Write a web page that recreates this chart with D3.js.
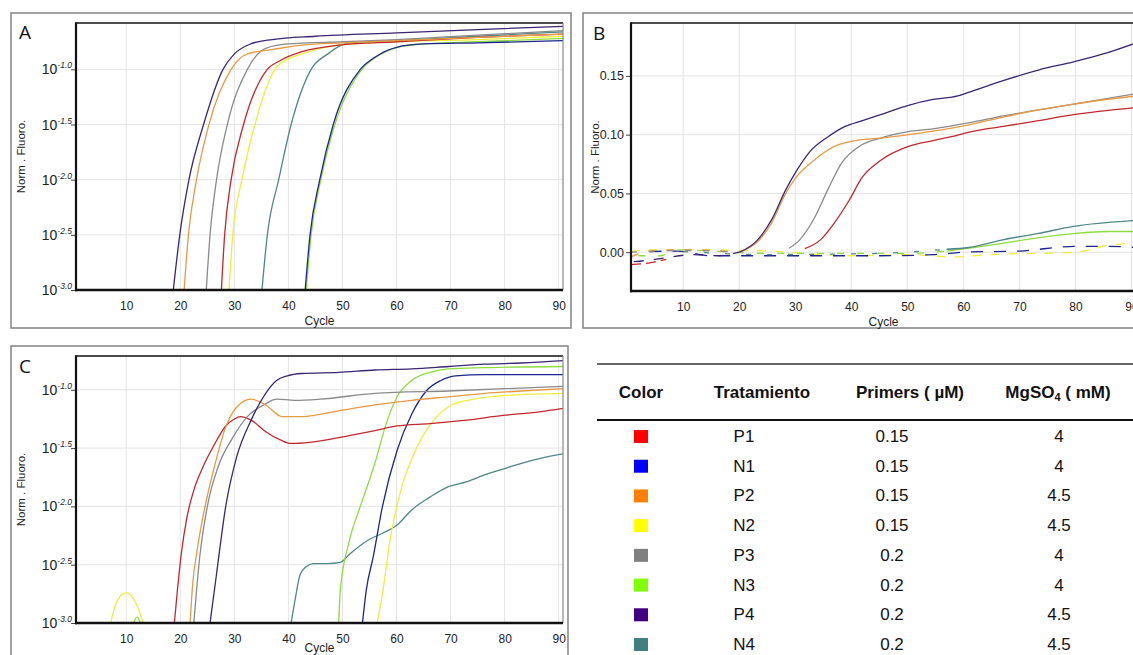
<!DOCTYPE html>
<html><head><meta charset="utf-8">
<script src="https://cdn.jsdelivr.net/npm/d3@7/dist/d3.min.js"></script>
<style>
body{margin:0;background:#fff;}
svg{display:block;font-family:"Liberation Sans",Arial,sans-serif;}
</style>
</head><body>
<svg id="chart" width="1133" height="655"></svg>
<script>
// ---------------- DATA ----------------
const treatments = ["P1","N1","P2","N2","P3","N3","P4","N4"];
const primers = ["0.15","0.15","0.15","0.15","0.2","0.2","0.2","0.2"];
const mgso4 = ["4","4","4.5","4.5","4","4","4.5","4.5"];
const legendColors = ["#ff0000","#0000ff","#ff8000","#ffff00","#808080","#80ff00","#400080","#408080"];
const lineColors = {P1:"#c1272d",N1:"#1c2590",P2:"#e59a45",N2:"#eeee3a",P3:"#8a8a8a",N3:"#8edc3e",P4:"#3a2672",N4:"#4f8686"};

const cycleDomain = [0.7, 90.8];
const xTickValues = [10,20,30,40,50,60,70,80,90];
const logTickExps = [-3.0,-2.5,-2.0,-1.5,-1.0];
const logTickLabels = ["-3.0","-2.5","-2.0","-1.5","-1.0"];
const linTickValues = [0,0.05,0.10,0.15];
const linTickLabels = ["0.00","0.05","0.10","0.15"];

// Panel A  (cycle, log10 Norm. Fluoro.)
const A_P1 = [[27.6,-3.0],[28.2,-2.5],[29.4,-2.0],[31.7,-1.5],[36.1,-1.0],[38.5,-0.92],[42.5,-0.84],[49.3,-0.78],[60,-0.75],[75,-0.71],[90.8,-0.68]];
const A_N1 = [[43.1,-3.0],[44,-2.5],[45.8,-2.0],[48.3,-1.5],[53.3,-1.0],[56,-0.89],[60,-0.80],[65,-0.77],[75,-0.76],[90.8,-0.74]];
const A_P2 = [[20.7,-3.0],[21.5,-2.5],[23,-2.0],[25.3,-1.5],[29.4,-1.0],[32.4,-0.86],[37.1,-0.82],[42.5,-0.78],[50,-0.76],[60,-0.74],[75,-0.71],[90.8,-0.68]];
const A_N2 = [[29,-3.0],[29.7,-2.5],[31.4,-2.0],[33.8,-1.5],[37.5,-1.0],[39.8,-0.91],[42.5,-0.86],[49.3,-0.78],[60,-0.75],[75,-0.73],[90.8,-0.70]];
const A_P3 = [[24.8,-3.0],[25.5,-2.5],[26.7,-2.0],[28.7,-1.5],[32.4,-1.0],[35.8,-0.81],[39.8,-0.77],[50,-0.75],[60,-0.73],[75,-0.69],[90.8,-0.65]];
const A_N3 = [[43.3,-3.0],[44.2,-2.5],[46,-2.0],[48.6,-1.5],[53.6,-1.0],[56.2,-0.89],[60.2,-0.80],[65,-0.77],[75,-0.75],[90.8,-0.72]];
const A_P4 = [[18.7,-3.0],[19.9,-2.5],[21.6,-2.0],[24.3,-1.5],[27.9,-1.0],[30,-0.86],[33,-0.77],[37,-0.73],[45,-0.70],[60,-0.67],[75,-0.64],[90.8,-0.61]];
const A_N4 = [[35.1,-3.0],[36.1,-2.5],[38.2,-2.0],[40.5,-1.5],[44.2,-1.0],[47.3,-0.86],[50.5,-0.77],[55,-0.75],[60,-0.74],[75,-0.70],[90.8,-0.66]];

// Panel B  (cycle, Norm. Fluoro.)
const B_P1 = [[31.7,0.003],[34.5,0.0105],[37,0.025],[39.6,0.044],[42,0.064],[45.2,0.078],[50.2,0.090],[54.6,0.095],[59,0.0996],[60.9,0.102],[67.1,0.107],[73.4,0.112],[79.7,0.117],[90.8,0.123]];
const B_P2 = [[20.1,0.0],[23.3,0.009],[25.8,0.025],[28.3,0.050],[30.2,0.064],[33.3,0.078],[37,0.090],[40.8,0.095],[45.2,0.097],[50.2,0.100],[54.6,0.103],[59.6,0.107],[67.1,0.115],[73.4,0.121],[79.7,0.126],[90.8,0.133]];
const B_P3 = [[28.9,0.0034],[30.8,0.0105],[33.3,0.028],[35.8,0.053],[38.3,0.076],[41.4,0.090],[45.2,0.097],[50.2,0.1025],[54.6,0.105],[60.9,0.110],[67.1,0.116],[73.4,0.121],[79.7,0.126],[90.8,0.135]];
const B_P4 = [[20.1,0.0],[23.3,0.0105],[25.8,0.0277],[28.3,0.053],[30.2,0.069],[32.7,0.086],[35.8,0.098],[38.9,0.107],[42,0.112],[45.8,0.118],[50.2,0.125],[54.6,0.130],[59,0.133],[60.9,0.136],[67.1,0.146],[73.4,0.155],[79.7,0.162],[85.9,0.170],[90.8,0.178]];
const B_N3 = [[57,0.001],[61,0.0034],[67,0.0076],[73,0.012],[80,0.016],[86,0.0176],[90.8,0.0176]];
const B_N4 = [[57,0.0025],[61,0.004],[67,0.0105],[73.4,0.016],[79.7,0.022],[90.8,0.027]];
// baseline (noisy, broken) traces in B
const B_P1_base = [[0.7,-0.0105],[4,-0.009],[7,-0.006]];
const B_P2_base = [[0.7,-0.004],[4,0.001],[8,0.002],[12,0.002],[20.1,0.0]];
const B_P3_base = [[0.7,0.0],[5,0.001],[10,0.0015],[20,0.0]];
const B_P4_base = [[1.2,-0.008],[3.5,-0.007],[6.5,-0.005],[12,-0.002],[16,-0.003],[20.1,0.0]];
const B_N1_base = [[4,0.0005],[9,0.001],[15,-0.003],[25,-0.003],[35,-0.003],[45,-0.003],[55,-0.002],[60,0.0],[70,0.001],[80,0.005],[86,0.005],[90.8,0.004]];
const B_N2_base = [[0.7,0.0005],[5,0.002],[9,0.002],[12,0.002],[25,0.001],[40,-0.003],[50,-0.002],[58,-0.004],[65,-0.002],[80,0.0],[86,0.006],[90.8,0.008]];
const B_N3_base = [[2,-0.003],[6,-0.003],[9,0.002],[25,-0.001],[50,-0.001],[57,0.001]];
const B_N4_base = [[10,0.0005],[25,-0.002],[45,-0.001],[57,0.0025]];

// Panel C  (cycle, log10 Norm. Fluoro.)
const C_P1 = [[18.9,-3.0],[19.5,-2.7],[20.2,-2.4],[21.2,-2.1],[22.5,-1.86],[24.2,-1.66],[26.3,-1.47],[28.4,-1.31],[30,-1.25],[31.1,-1.23],[33.1,-1.26],[35.8,-1.36],[38.5,-1.43],[40.5,-1.46],[43.9,-1.45],[49.3,-1.41],[56,-1.35],[60.1,-1.31],[66.2,-1.29],[72.9,-1.26],[79.7,-1.22],[86.4,-1.19],[90.8,-1.16]];
const C_N1 = [[53.7,-3.0],[54.4,-2.72],[55.7,-2.43],[57.4,-2.0],[60.1,-1.52],[62.8,-1.21],[65.5,-1.01],[68.2,-0.92],[70.9,-0.88],[76.3,-0.87],[90.8,-0.87]];
const C_P2 = [[21.8,-3.0],[22.3,-2.66],[23.1,-2.38],[24.4,-2.04],[26.3,-1.66],[28.4,-1.32],[30.4,-1.15],[33.1,-1.08],[35.8,-1.13],[38.8,-1.23],[42.5,-1.23],[49.3,-1.18],[56,-1.13],[62.8,-1.09],[69.6,-1.06],[76.3,-1.03],[83.1,-1.01],[90.8,-0.99]];
const C_N2 = [[56.4,-3.0],[57.4,-2.75],[58.8,-2.29],[60.8,-1.86],[63.5,-1.52],[66.9,-1.26],[70.2,-1.13],[74.3,-1.08],[79.7,-1.05],[90.8,-1.03]];
const C_N2_bump = [[6.9,-3.05],[8.1,-2.83],[10,-2.74],[11.8,-2.83],[13.5,-3.05]];
const C_P3 = [[22.5,-3.0],[23.6,-2.43],[25,-2.0],[27,-1.66],[29.7,-1.41],[32.4,-1.23],[35.8,-1.12],[37.8,-1.08],[41.2,-1.09],[45.9,-1.08],[56,-1.03],[69.6,-1.01],[90.8,-0.97]];
const C_N3 = [[49.3,-3.0],[49.6,-2.72],[51.3,-2.29],[53.3,-2.0],[56,-1.63],[58.1,-1.29],[60.1,-1.06],[62.8,-0.92],[66.2,-0.85],[69.6,-0.82],[76.3,-0.81],[90.8,-0.80]];
const C_N3_bump = [[11.2,-3.02],[12,-2.95],[12.8,-3.02]];
const C_P4 = [[25.5,-3.0],[26.7,-2.58],[28.4,-2.0],[30.4,-1.58],[33.1,-1.26],[35.8,-1.03],[37.8,-0.92],[39.8,-0.88],[42.5,-0.86],[49.3,-0.85],[56,-0.83],[62.8,-0.82],[69.6,-0.80],[76.3,-0.78],[83.1,-0.77],[90.8,-0.75]];
const C_N4 = [[40.5,-3.0],[41.2,-2.81],[42.2,-2.58],[43.2,-2.52],[44.6,-2.49],[47.3,-2.49],[49.6,-2.48],[51.3,-2.41],[54.7,-2.29],[57.4,-2.23],[60.1,-2.16],[62.8,-2.03],[66.2,-1.92],[69.6,-1.83],[72.9,-1.79],[76.3,-1.73],[79.7,-1.68],[83.1,-1.63],[86.4,-1.59],[90.8,-1.55]];

// ---------------- DRAW ----------------
const svg = d3.select("#chart");
svg.append("rect").attr("width",1133).attr("height",655).attr("fill","#fff");

function drawPanel(cfg){
  const g = svg.append("g");
  const [fx,fy,fw,fh] = cfg.frame;
  g.append("rect").attr("x",fx).attr("y",fy).attr("width",fw).attr("height",fh)
    .attr("fill","#fff").attr("stroke","#8a8a8a").attr("stroke-width",1.6);
  const [L,T,R,B] = cfg.plot;
  const x = d3.scaleLinear().domain(cycleDomain).range([L,R]);
  const y = cfg.log ? d3.scaleLog().domain(cfg.yDomain.map(e=>Math.pow(10,e))).range([B,T])
                    : d3.scaleLinear().domain(cfg.yDomain).range([B,T]);
  const yv = cfg.log ? (d=>y(Math.pow(10,d))) : (d=>y(d));
  const yTicks = cfg.log ? logTickExps : linTickValues;
  const yLabels = cfg.log ? logTickLabels : linTickLabels;

  // grid
  g.append("g").selectAll("line").data(xTickValues).join("line")
    .attr("x1",d=>x(d)).attr("x2",d=>x(d)).attr("y1",T).attr("y2",B)
    .attr("stroke","#e4e4e4").attr("stroke-width",1);
  g.append("g").selectAll("line").data(yTicks).join("line")
    .attr("x1",L).attr("x2",R).attr("y1",d=>yv(d)).attr("y2",d=>yv(d))
    .attr("stroke","#e4e4e4").attr("stroke-width",1);

  // clip
  const cid = "clip"+cfg.id;
  svg.append("clipPath").attr("id",cid).append("rect")
    .attr("x",L).attr("y",T).attr("width",R-L).attr("height",B-T);
  const lg = g.append("g").attr("clip-path",`url(#${cid})`);
  const line = d3.line().x(d=>x(d[0])).y(d=>yv(d[1])).curve(d3.curveMonotoneX);
  cfg.series.forEach(s=>{
    lg.append("path").datum(s.data).attr("d",line)
      .attr("fill","none").attr("stroke",lineColors[s.key])
      .attr("stroke-width",s.w||1.3)
      .attr("stroke-dasharray",s.dash||null)
      .attr("stroke-linejoin","round");
  });

  // axes
  const ay = g.append("g").attr("transform",`translate(${L},0)`)
    .call(d3.axisLeft(y).tickValues(yTicks.map(t=>cfg.log?Math.pow(10,t):t)).tickFormat(()=>"").tickSize(5).tickSizeOuter(0));
  ay.select(".domain").remove();
  ay.selectAll(".tick line").attr("stroke","#444");
  if(cfg.log){
    yTicks.forEach((t,i)=>{
      const tx = g.append("text").attr("x",L-4).attr("y",yv(t)+5).attr("text-anchor","end")
        .attr("fill","#222");
      tx.append("tspan").attr("font-size",14).text("10");
      tx.append("tspan").attr("font-size",8.5).attr("font-style","italic").attr("dy",-6).text(yLabels[i]);
    });
  } else {
    yTicks.forEach((t,i)=>{
      g.append("text").attr("x",L-7).attr("y",yv(t)+4.5).attr("text-anchor","end")
        .attr("font-size",12.5).attr("fill","#222").text(yLabels[i]);
    });
  }
  const ax = g.append("g").attr("transform",`translate(0,${B})`)
    .call(d3.axisBottom(x).tickValues(xTickValues).tickSize(0).tickPadding(11));
  ax.select(".domain").remove();
  ax.selectAll("text").attr("font-size",12).attr("fill","#222").attr("font-family","Liberation Sans, Arial, sans-serif");

  // plot borders
  g.append("line").attr("x1",L).attr("x2",R).attr("y1",T).attr("y2",T).attr("stroke","#111").attr("stroke-width",1.6);
  g.append("line").attr("x1",R).attr("x2",R).attr("y1",T).attr("y2",B).attr("stroke","#888").attr("stroke-width",1.2);
  g.append("line").attr("x1",L).attr("x2",L).attr("y1",T-0.8).attr("y2",B+1.2).attr("stroke","#111").attr("stroke-width",2.2);
  g.append("line").attr("x1",L-1).attr("x2",R).attr("y1",B).attr("y2",B).attr("stroke","#111").attr("stroke-width",2.6);

  // titles
  g.append("text").attr("x",(L+R)/2).attr("y",Math.min(B+35,652)).attr("text-anchor","middle")
    .attr("font-size",12).attr("fill","#222").text("Cycle");
  g.append("text").attr("transform",`translate(${cfg.ytx},${(T+B)/2}) rotate(-90)`)
    .attr("text-anchor","middle").attr("font-size",11.5).attr("fill","#222").text("Norm . Fluoro.");
  g.append("text").attr("x",cfg.letter[1]).attr("y",cfg.letter[2]).attr("font-size",19)
    .attr("fill","#111").attr("font-family","'Open Sans', 'Liberation Sans', sans-serif").text(cfg.letter[0]);
}

drawPanel({id:"A", frame:[11,13,560,315], plot:[76,23,563,290], log:true, yDomain:[-3.0,-0.58],
  ytx:25, letter:["A",19,39],
  series:[
    {key:"N3",data:A_N3},{key:"N1",data:A_N1},{key:"N4",data:A_N4},{key:"N2",data:A_N2},
    {key:"P1",data:A_P1},{key:"P3",data:A_P3},{key:"P2",data:A_P2},{key:"P4",data:A_P4}
  ]});

drawPanel({id:"B", frame:[583,13,560,315], plot:[631,23,1136,291], log:false, yDomain:[-0.033,0.195],
  ytx:599, letter:["B",593,40],
  series:[
    {key:"N2",data:B_N2_base,dash:"9,9"},{key:"N1",data:B_N1_base,dash:"12,11"},
    {key:"N3",data:B_N3_base,dash:"7,13"},{key:"N4",data:B_N4_base,dash:"5,16"},
    {key:"P1",data:B_P1_base,dash:"10,5"},{key:"P2",data:B_P2_base,dash:"8,10"},
    {key:"P3",data:B_P3_base,dash:"6,12"},{key:"P4",data:B_P4_base,dash:"10,10"},
    {key:"N3",data:B_N3},{key:"N4",data:B_N4},
    {key:"P1",data:B_P1},{key:"P3",data:B_P3},{key:"P2",data:B_P2},{key:"P4",data:B_P4}
  ]});

drawPanel({id:"C", frame:[11,346,557,320], plot:[76,356,563,623], log:true, yDomain:[-3.0,-0.71],
  ytx:25, letter:["C",19,373],
  series:[
    {key:"N2",data:C_N2_bump},{key:"N3",data:C_N3_bump},
    {key:"N4",data:C_N4},{key:"N2",data:C_N2},{key:"N3",data:C_N3},{key:"N1",data:C_N1},
    {key:"P1",data:C_P1},{key:"P3",data:C_P3},{key:"P2",data:C_P2},{key:"P4",data:C_P4}
  ]});

// ---------------- TABLE ----------------
const tg = svg.append("g").attr("font-family","'Liberation Sans', Arial, sans-serif").attr("fill","#111");
const colX = [641, 762, 910, 1058];
const valX = [641, 744, 892, 1059];
tg.append("line").attr("x1",597).attr("x2",1133).attr("y1",364).attr("y2",364).attr("stroke","#333").attr("stroke-width",1.5);
tg.append("line").attr("x1",597).attr("x2",1133).attr("y1",420).attr("y2",420).attr("stroke","#111").attr("stroke-width",2.2);
const hdrY = 398;
tg.append("text").attr("x",colX[0]).attr("y",hdrY).attr("text-anchor","middle").attr("font-weight","bold").attr("font-size",17).text("Color");
tg.append("text").attr("x",colX[1]).attr("y",hdrY).attr("text-anchor","middle").attr("font-weight","bold").attr("font-size",17).text("Tratamiento");
tg.append("text").attr("x",colX[2]).attr("y",hdrY).attr("text-anchor","middle").attr("font-weight","bold").attr("font-size",17).text("Primers ( µM)");
const mg = tg.append("text").attr("x",colX[3]).attr("y",hdrY).attr("text-anchor","middle").attr("font-weight","bold").attr("font-size",17);
mg.append("tspan").text("MgSO");
mg.append("tspan").attr("font-size",11).attr("dy",3).text("4");
mg.append("tspan").attr("dy",-3).text(" ( mM)");

const rowY = d3.scalePoint().domain(treatments).range([436,644]);
treatments.forEach((t,i)=>{
  const cy = rowY(t);
  tg.append("rect").attr("x",valX[0]-7).attr("y",cy-6).attr("width",14).attr("height",13).attr("fill",legendColors[i]);
  tg.append("text").attr("x",valX[1]).attr("y",cy+6).attr("text-anchor","middle").attr("font-size",17).text(t);
  tg.append("text").attr("x",valX[2]).attr("y",cy+6).attr("text-anchor","middle").attr("font-size",17).text(primers[i]);
  tg.append("text").attr("x",valX[3]).attr("y",cy+6).attr("text-anchor","middle").attr("font-size",17).text(mgso4[i]);
});
</script>
</body></html>
